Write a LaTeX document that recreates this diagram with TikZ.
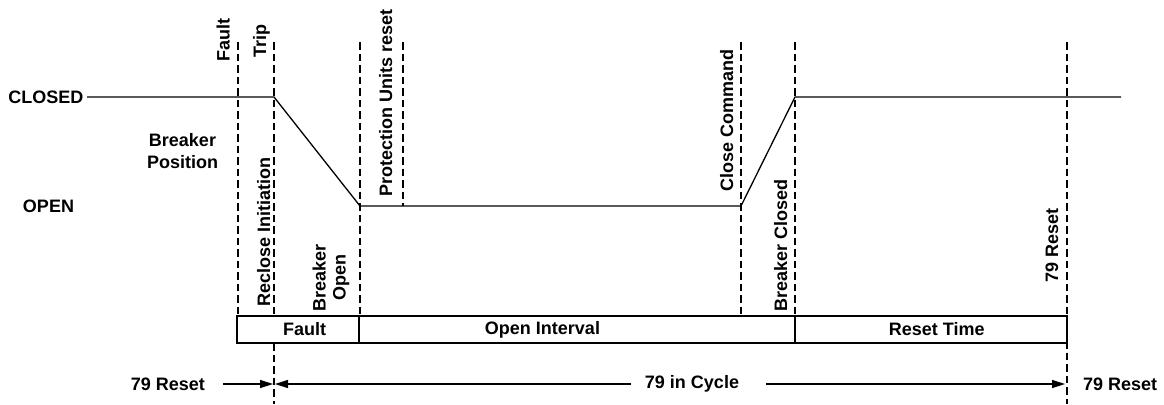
\documentclass[tikz,border=0pt]{standalone}
\usepackage{fontspec}
\setmainfont{Liberation Sans}
\usetikzlibrary{arrows.meta}
\begin{document}
\begin{tikzpicture}[x=1bp,y=-1bp,
  lbl/.style={font=\bfseries\fontsize{18bp}{21bp}\selectfont, inner sep=0pt},
  vlbl/.style={lbl, rotate=90, anchor=base west},
  marker/.style={line width=2bp, dash pattern=on 7.5bp off 4bp},
  posline/.style={line width=1.3bp},
  bar/.style={line width=1.1bp},
  tim/.style={line width=1.3bp, -{Triangle[length=13bp,width=8bp]}}]
\useasboundingbox (0,0) rectangle (1164,404);

% breaker position trace
\node[lbl, anchor=east] (closed) at (83.5,97) {CLOSED};
\node[lbl] (open) at (48.5,206) {OPEN};
\node[lbl, align=center] (bpos) at (182.5,151.5) {Breaker\\[1bp]Position};
\coordinate (c1) at (274,97);
\coordinate (c2) at (360,206);
\coordinate (c3) at (741,206);
\coordinate (c4) at (795,97);
\coordinate (c5) at (1121,97);
\draw[posline] ([xshift=3.5bp]closed.east) -- (c1) -- (c2) -- (c3) -- (c4) -- (c5);

% event markers
\coordinate (fT) at (238,42);   \coordinate (fB) at (238,316);
\coordinate (tT) at (274,42);   \coordinate (tB) at (274,316);
\coordinate (tT2) at (274,343); \coordinate (tB2) at (274,404);
\coordinate (oT) at (360,42);   \coordinate (oB) at (360,316);
\coordinate (pT) at (403,42);   \coordinate (pB) at (403,206);
\coordinate (kT) at (741,42);   \coordinate (kB) at (741,316);
\coordinate (bT) at (795,42);   \coordinate (bB) at (795,316);
\coordinate (rT) at (1067,42);  \coordinate (rB) at (1067,404);
\foreach \a/\b in {fT/fB,tT/tB,tT2/tB2,oT/oB,pT/pB,kT/kB,bT/bB,rT/rB}
  \draw[marker] (\a) -- (\b);

% vertical labels
\node[vlbl] (lfault) at (229.5,62) {Fault};
\node[vlbl] (ltrip) at (266,58) {Trip};
\node[vlbl] (lrecl) at (270,307) {Reclose Initiation};
\node[lbl, rotate=90, align=center] (lbo) at (331,277.5) {Breaker\\[-1bp]Open};
\node[vlbl] (lpur) at (392,197) {Protection Units reset};
\node[vlbl] (lcc) at (733,192) {Close Command};
\node[vlbl] (lbc) at (787,312) {Breaker Closed};
\node[vlbl] (l79) at (1058,283) {79 Reset};

% interval bar
\draw[bar] (237,316) rectangle (359,343);
\draw[bar] (359,316) rectangle (795,343);
\draw[bar] (795,316) rectangle (1067,343);
\node[lbl] (ifault) at (304.5,329.5) {Fault};
\node[lbl] (iopen) at (542.5,329.5) {Open Interval};
\node[lbl] (ireset) at (936.7,329.5) {Reset Time};

% 79 state row
\node[lbl, anchor=east] (rleft) at (205,384) {79 Reset};
\node[lbl] (cyc) at (692,384) {79 in Cycle};
\node[lbl, anchor=west] (rright) at (1083,384) {79 Reset};
\coordinate (a1) at (273,384);
\coordinate (a2) at (275,384);
\coordinate (a3) at (1065,384);
\draw[tim] ([xshift=18bp]rleft.east) -- (a1);
\draw[tim] ([xshift=-14bp]cyc.west) -- (a2);
\draw[tim] ([xshift=27bp]cyc.east) -- (a3);
\end{tikzpicture}
\end{document}
